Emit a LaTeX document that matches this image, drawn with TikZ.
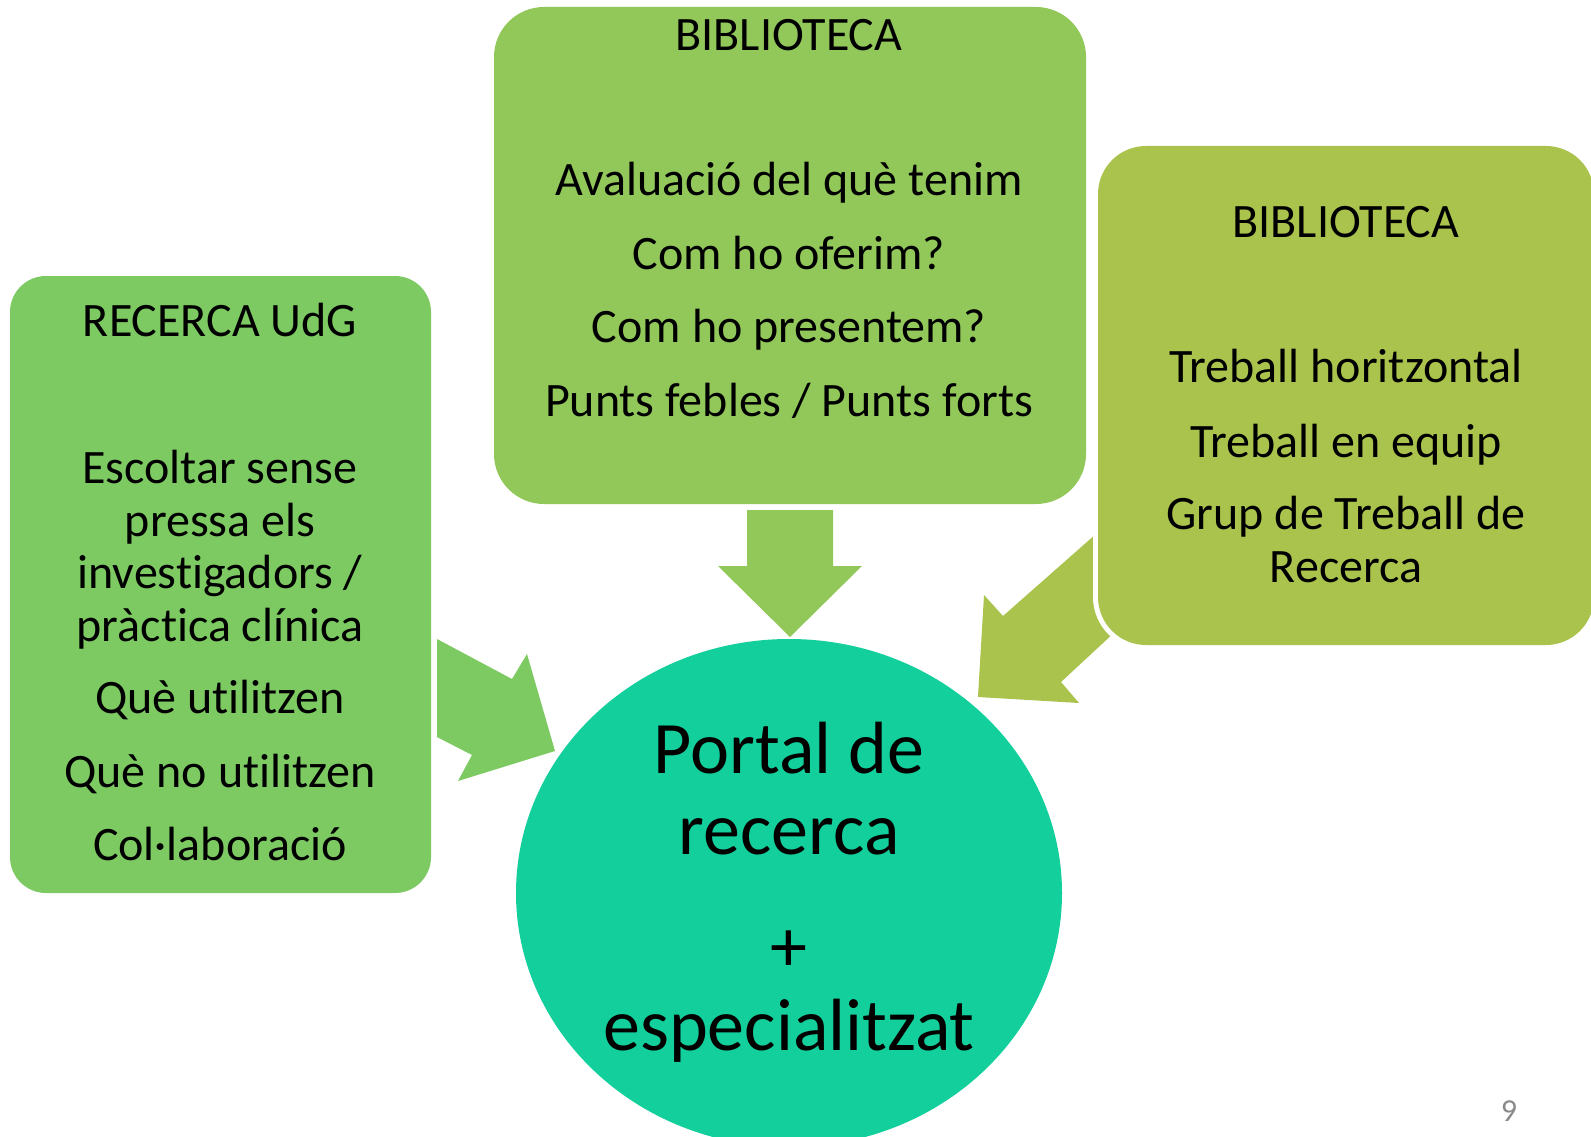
\documentclass[tikz,border=0pt]{standalone}
\usepackage{fontspec}
\setmainfont[Ligatures={NoCommon,NoContextual}]{Carlito}
\usetikzlibrary{shapes.geometric}
\definecolor{gleft}{HTML}{7DC962}
\definecolor{gmid}{HTML}{92C75A}
\definecolor{gright}{HTML}{A9C34C}
\definecolor{portalc}{HTML}{12CF9C}
\definecolor{pgnum}{HTML}{8A8A8A}
\begin{document}
\begin{tikzpicture}[x=1pt,y=-1pt,
  boxstyle/.style={rectangle,inner sep=0,draw=none},
  txt/.style={anchor=base,inner sep=0,font=\fontsize{48}{56}\selectfont},
  bigtxt/.style={anchor=base,inner sep=0,font=\fontsize{74}{74}\selectfont},
  blockarrow/.style={draw=none}]
\useasboundingbox (0,0) rectangle (1591,1137);
\clip (0,0) rectangle (1591,1137);
\fill[white] (0,0) rectangle (1591,1137);

% central ellipse
\node[ellipse,fill=portalc,minimum width=546,minimum height=508,inner sep=0] (portal) at (789,893) {};

% block arrows
\fill[gleft,blockarrow] (437,639) -- (512,679) -- (527,654) -- (555,751) -- (458,781) -- (472,755) -- (437,737) -- cycle;
\fill[gmid,blockarrow] (747,510) -- (833,510) -- (833,566) -- (862,566) -- (790,637) -- (718,566) -- (747,566) -- cycle;
\fill[gright,blockarrow] (1113,519) -- (1003,616) -- (984,595) -- (978,697) -- (1079,703) -- (1061,682) -- (1130,618) -- cycle;

% boxes
\node[boxstyle,fill=gleft,rounded corners=36,minimum width=421,minimum height=617] (recerca) at (220.5,584.5) {};
\node[boxstyle,fill=gmid,rounded corners=50,minimum width=592,minimum height=497] (biblio1) at (790,255.5) {};
\node[boxstyle,fill=gright,rounded corners=48,minimum width=496,minimum height=499,
      preaction={draw=white,line width=10}] (biblio2) at (1346,395.5) {};

% left box text
\node[txt] (l1) at (220,336) {RECERCA UdG};
\node[txt] (l2) at (220,483) {Escoltar sense};
\node[txt] (l3) at (220,536) {pressa els};
\node[txt] (l4) at (220,588) {investigadors /};
\node[txt] (l5) at (220,641) {pràctica clínica};
\node[txt] (l6) at (220,713) {Què utilitzen};
\node[txt] (l7) at (220,787) {Què no utilitzen};
\node[txt] (l8) at (220,860) {Col·laboració};

% middle box text
\node[txt] (m1) at (789,51) {BIBLIOTECA};
\node[txt] (m2) at (789,196) {Avaluació del què tenim};
\node[txt] (m3) at (789,269) {Com ho oferim?};
\node[txt] (m4) at (789,342) {Com ho presentem?};
\node[txt] (m5) at (789,416) {Punts febles / Punts forts};

% right box text
\node[txt] (r1) at (1346,237) {BIBLIOTECA};
\node[txt] (r2) at (1346,382) {Treball horitzontal};
\node[txt] (r3) at (1346,457) {Treball en equip};
\node[txt] (r4) at (1346,529) {Grup de Treball de};
\node[txt] (r5) at (1346,582) {Recerca};

% central text
\node[bigtxt] (p1) at (789,773) {Portal de};
\node[bigtxt] (p2) at (789,854) {recerca};
\node[bigtxt] (p3) at (789,971) {+};
\node[bigtxt] (p4) at (789,1050) {especialitzat};

% page number
\node[anchor=base,inner sep=0,text=pgnum,font=\fontsize{32}{32}\selectfont] (pg) at (1509,1121) {9};
\end{tikzpicture}
\end{document}
